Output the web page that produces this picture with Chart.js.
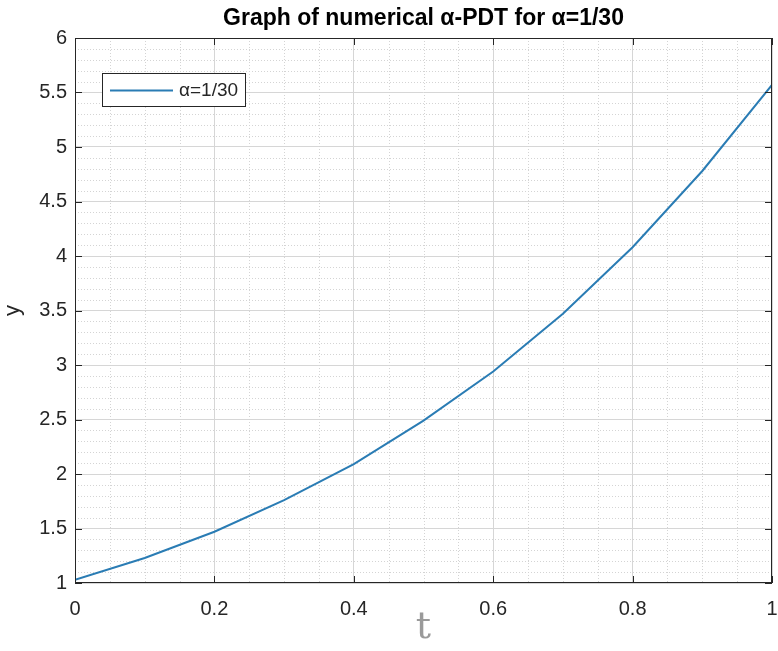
<!DOCTYPE html>
<html>
<head>
<meta charset="utf-8">
<script src="https://cdn.jsdelivr.net/npm/chart.js@4.4.0/dist/chart.umd.min.js"></script>
<style>
  html, body { margin: 0; padding: 0; background: #fff; }
  #wrap { width: 778px; height: 651px; position: relative; }
</style>
</head>
<body>
<div id="wrap"><canvas id="c"></canvas></div>
<script>
// --- data ---
const tValues = [0, 0.1, 0.2, 0.3, 0.4, 0.5, 0.6, 0.7, 0.8, 0.9, 1.0];
const yValues = [1.03, 1.23, 1.47, 1.76, 2.09, 2.49, 2.94, 3.47, 4.08, 4.78, 5.57];
const xTicks = [0, 0.2, 0.4, 0.6, 0.8, 1];
const yTicks = [1, 1.5, 2, 2.5, 3, 3.5, 4, 4.5, 5, 5.5, 6];
const seriesLabel = 'α=1/30';
const titleText = 'Graph of numerical α-PDT for α=1/30';

const LINE = '#2a7cb4';
const FONT = '"Liberation Sans", Arial, sans-serif';

// minor grid (dotted) + inward ticks on all four sides, matlab style
const matlabAxes = {
  id: 'matlabAxes',
  beforeDatasetsDraw(chart) {
    const { ctx, chartArea: a, scales: { x, y } } = chart;
    ctx.save();
    ctx.strokeStyle = '#d4d4d4';
    ctx.lineWidth = 1;
    ctx.setLineDash([1, 2]);
    for (let i = 1; i < 20; i++) {
      if (i % 4 === 0) continue;
      const px = Math.round(x.getPixelForValue(i * 0.05)) + 0.5;
      ctx.beginPath(); ctx.moveTo(px, a.top); ctx.lineTo(px, a.bottom); ctx.stroke();
    }
    for (let i = 1; i < 50; i++) {
      if (i % 5 === 0) continue;
      const py = Math.round(y.getPixelForValue(1 + i * 0.1)) + 0.5;
      ctx.beginPath(); ctx.moveTo(a.left, py); ctx.lineTo(a.right, py); ctx.stroke();
    }
    ctx.restore();
  },
  afterDraw(chart) {
    const { ctx, chartArea: a, scales: { x, y } } = chart;
    ctx.save();
    ctx.strokeStyle = '#262626';
    ctx.lineWidth = 1;
    ctx.strokeRect(a.left + 0.5, a.top + 0.5, a.right - a.left - 1, a.bottom - a.top - 1);
    const L = 7;
    xTicks.forEach(v => {
      const px = Math.round(x.getPixelForValue(v)) + 0.5;
      ctx.beginPath();
      ctx.moveTo(px, a.bottom); ctx.lineTo(px, a.bottom - L);
      ctx.moveTo(px, a.top); ctx.lineTo(px, a.top + L);
      ctx.stroke();
    });
    yTicks.forEach(v => {
      const py = Math.round(y.getPixelForValue(v)) + 0.5;
      ctx.beginPath();
      ctx.moveTo(a.left, py); ctx.lineTo(a.left + L, py);
      ctx.moveTo(a.right, py); ctx.lineTo(a.right - L, py);
      ctx.stroke();
    });

    // legend box
    const bx = a.left + 27, by = a.top + 35, bw = 143, bh = 33;
    ctx.fillStyle = '#fff';
    ctx.fillRect(bx, by, bw, bh);
    ctx.strokeStyle = '#262626';
    ctx.strokeRect(bx + 0.5, by + 0.5, bw, bh);
    ctx.strokeStyle = LINE;
    ctx.lineWidth = 2;
    ctx.beginPath();
    ctx.moveTo(bx + 8, by + bh / 2 + 1); ctx.lineTo(bx + 71, by + bh / 2 + 1);
    ctx.stroke();
    ctx.fillStyle = '#262626';
    ctx.font = '19px ' + FONT;
    ctx.textBaseline = 'middle';
    ctx.fillText(chart.data.datasets[0].label, bx + 77, by + bh / 2 + 1);

    // title
    ctx.font = 'bold 23px ' + FONT;
    ctx.textAlign = 'center';
    ctx.fillStyle = '#000';
    ctx.fillText(titleText, (a.left + a.right) / 2, 19);
    ctx.restore();
  }
};

new Chart(document.getElementById('c'), {
  type: 'line',
  data: {
    labels: tValues,
    datasets: [{
      label: seriesLabel,
      data: tValues.map((t, i) => ({ x: t, y: yValues[i] })),
      borderColor: LINE,
      borderWidth: 2,
      pointRadius: 0,
      tension: 0,
      fill: false
    }]
  },
  options: {
    responsive: true,
    maintainAspectRatio: false,
    animation: false,
    layout: { padding: { top: 38, right: 6, left: 0, bottom: 0 } },
    plugins: { legend: { display: false }, title: { display: false }, tooltip: { enabled: false } },
    scales: {
      x: {
        type: 'linear', min: 0, max: 1,
        afterBuildTicks: s => { s.ticks = xTicks.map(v => ({ value: v })); },
        afterFit: s => { s.height = 68; s.paddingRight = 0; s.paddingLeft = 0; },
        grid: { color: '#d6d6d6', drawTicks: false },
        border: { display: false },
        ticks: { color: '#262626', font: { family: FONT, size: 20 }, padding: 14, maxRotation: 0,
                 callback: v => String(v) },
        title: { display: true, text: 't', color: '#9a9a9a',
                 font: { family: '"DejaVu Serif", serif', size: 38 }, padding: { top: -8, bottom: 0 } }
      },
      y: {
        type: 'linear', min: 1, max: 6,
        afterBuildTicks: s => { s.ticks = yTicks.map(v => ({ value: v })); },
        afterFit: s => { s.width = 75; },
        grid: { color: '#d6d6d6', drawTicks: false },
        border: { display: false },
        ticks: { color: '#262626', font: { family: FONT, size: 20 }, padding: 8,
                 callback: v => String(v) },
        title: { display: true, text: 'y', color: '#262626',
                 font: { family: FONT, size: 22 }, padding: { top: 0, bottom: 0 } }
      }
    }
  },
  plugins: [matlabAxes]
});
</script>
</body>
</html>
